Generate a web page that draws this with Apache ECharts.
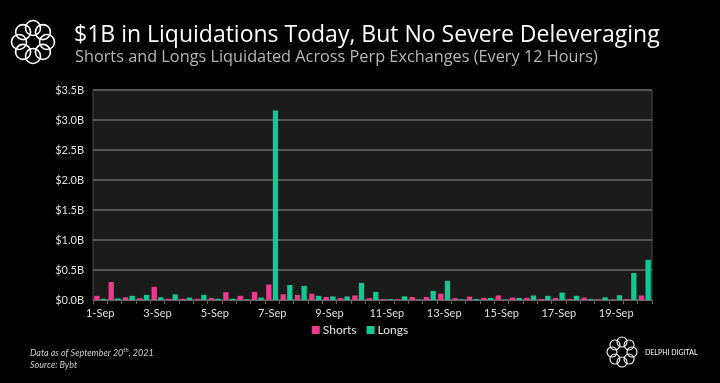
<!DOCTYPE html>
<html>
<head>
<meta charset="utf-8">
<script src="https://cdn.jsdelivr.net/npm/echarts@6/dist/echarts.min.js"></script>
<style>
html,body{margin:0;padding:0;background:#000;}
#c{width:720px;height:383px;}
</style>
</head>
<body>
<div id="c"></div>
<script>
// 12-hour periods, 1-Sep 00:00 through 20-Sep 00:00
const periods = [
  '1-Sep 00h','1-Sep 12h','2-Sep 00h','2-Sep 12h','3-Sep 00h','3-Sep 12h','4-Sep 00h','4-Sep 12h',
  '5-Sep 00h','5-Sep 12h','6-Sep 00h','6-Sep 12h','7-Sep 00h','7-Sep 12h','8-Sep 00h','8-Sep 12h',
  '9-Sep 00h','9-Sep 12h','10-Sep 00h','10-Sep 12h','11-Sep 00h','11-Sep 12h','12-Sep 00h','12-Sep 12h',
  '13-Sep 00h','13-Sep 12h','14-Sep 00h','14-Sep 12h','15-Sep 00h','15-Sep 12h','16-Sep 00h','16-Sep 12h',
  '17-Sep 00h','17-Sep 12h','18-Sep 00h','18-Sep 12h','19-Sep 00h','19-Sep 12h','20-Sep 00h'
];
// values in $B
const shorts = [
  0.07,0.30,0.045,0.03,0.22,0.02,0.02,0.02,
  0.035,0.13,0.07,0.135,0.26,0.095,0.085,0.105,
  0.05,0.03,0.075,0.03,0.015,0.015,0.05,0.05,
  0.105,0.03,0.056,0.035,0.075,0.04,0.035,0.017,
  0.035,0.017,0.04,0.01,0.005,0.017,0.075
];
const longs = [
  0.02,0.025,0.07,0.085,0.045,0.095,0.04,0.085,
  0.02,0.02,0.01,0.04,3.16,0.25,0.235,0.07,
  0.06,0.06,0.285,0.135,0.015,0.06,0.005,0.15,
  0.32,0.01,0.017,0.035,0.005,0.035,0.075,0.07,
  0.125,0.07,0.017,0.045,0.08,0.45,0.67
];
const yTicks = [0, 0.5, 1.0, 1.5, 2.0, 2.5, 3.0, 3.5];

const PINK = '#ec3a8e';
const GREEN = '#12c995';
const FONT = 'Lato, "Noto Sans", sans-serif';
const TFONT = '"Open Sans", "Noto Sans", sans-serif';

function ring(cx, cy, R, r, n, lw) {
  const els = [];
  for (let i = 0; i < n; i++) {
    const a = (Math.PI * 2 * i) / n - Math.PI / 2;
    els.push({
      type: 'circle',
      shape: { cx: cx + R * Math.cos(a), cy: cy + R * Math.sin(a), r: r },
      style: { fill: 'none', stroke: '#fff', lineWidth: lw },
      silent: true
    });
  }
  return els;
}

const chart = echarts.init(document.getElementById('c'), null, { renderer: 'canvas' });
chart.setOption({
  backgroundColor: '#000',
  animation: false,
  textStyle: { fontFamily: FONT },
  grid: {
    left: 93, right: 68, top: 90, bottom: 83,
    show: true, backgroundColor: '#1b1b1b', borderColor: '#4a4a4a', borderWidth: 1
  },
  legend: {
    data: ['Shorts', 'Longs'],
    bottom: 42, left: 'center',
    icon: 'rect', itemWidth: 8, itemHeight: 8, itemGap: 10,
    textStyle: { color: '#e6e6e6', fontSize: 12, fontFamily: FONT, padding: [0, 0, 0, -2] }
  },
  xAxis: {
    type: 'category',
    data: periods,
    axisLine: { lineStyle: { color: '#666', width: 1 } },
    axisTick: { show: true, interval: 0, length: 4, lineStyle: { color: '#666' } },
    axisLabel: {
      interval: 3, color: '#e0e0e0', fontSize: 11, margin: 8, fontFamily: FONT,
      formatter: v => v.split(' ')[0]
    },
    splitLine: { show: false }
  },
  yAxis: {
    type: 'value', min: 0, max: 3.5, interval: 0.5,
    axisLine: { show: false },
    axisTick: { show: false },
    axisLabel: {
      color: '#e0e0e0', fontSize: 11, margin: 9, fontFamily: FONT,
      customValues: yTicks,
      formatter: v => '$' + v.toFixed(1) + 'B'
    },
    splitLine: { lineStyle: { color: '#555', width: 2 } }
  },
  series: [
    { name: 'Shorts', type: 'bar', data: shorts, itemStyle: { color: PINK }, barWidth: 5.3, barGap: '25%' },
    { name: 'Longs', type: 'bar', data: longs, itemStyle: { color: GREEN }, barWidth: 5.3, barGap: '25%' }
  ],
  graphic: [
    ...ring(33, 42, 14, 7.5, 8, 1.6),
    {
      type: 'text', left: 74, top: 24, silent: true,
      style: { text: '$1B in Liquidations Today, But No Severe Deleveraging', fill: '#ffffff', fontSize: 23, fontFamily: TFONT }
    },
    {
      type: 'text', left: 75, top: 49, silent: true,
      style: { text: 'Shorts and Longs Liquidated Across Perp Exchanges (Every 12 Hours)', fill: '#b8b8b8', fontSize: 16.3, fontFamily: TFONT }
    },
    {
      type: 'text', left: 30, top: 347, silent: true,
      style: {
        text: '{a|Data as of September 20}{s|th}{a|, 2021}\n{a|Source: Bybt}',
        rich: {
          a: { fill: '#cfcfcf', fontSize: 9, fontStyle: 'italic', fontFamily: FONT, lineHeight: 12 },
          s: { fill: '#cfcfcf', fontSize: 6, fontStyle: 'italic', fontFamily: FONT, verticalAlign: 'top', lineHeight: 12 }
        }
      }
    },
    ...ring(622, 352, 10, 5, 8, 1.1),
    {
      type: 'text', left: 645, top: 349, silent: true,
      style: { text: 'DELPHI DIGITAL', fill: '#ffffff', fontSize: 7, fontFamily: FONT }
    }
  ]
});
</script>
</body>
</html>
